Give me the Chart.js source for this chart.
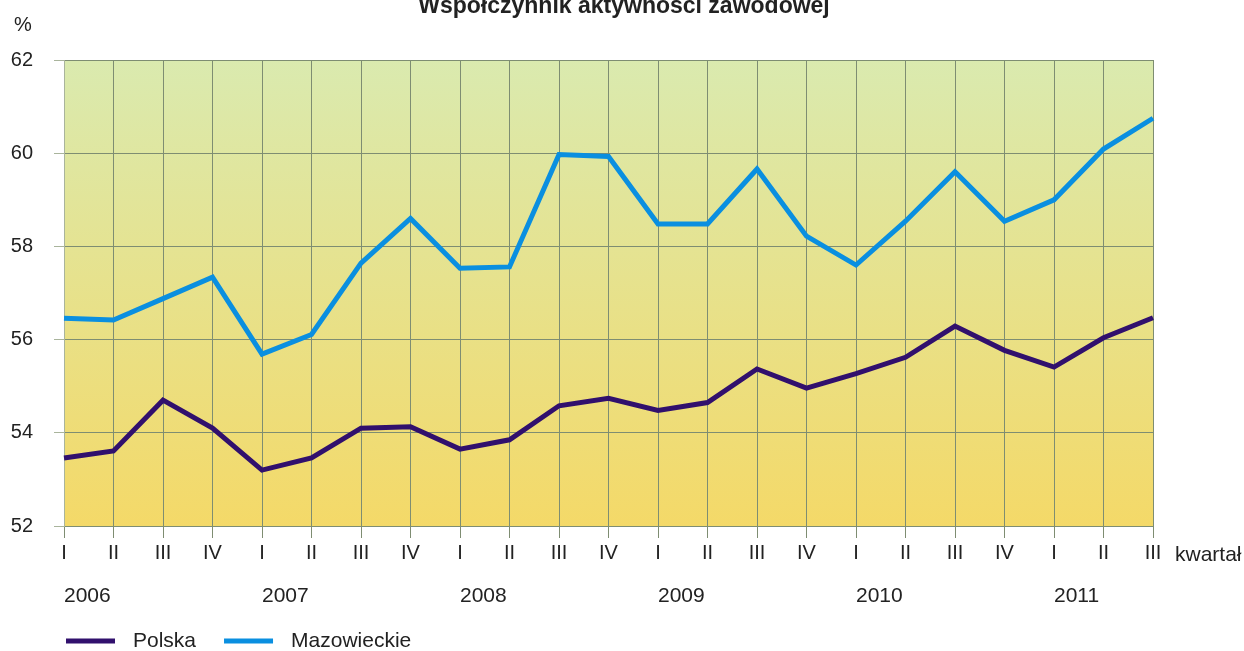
<!DOCTYPE html>
<html>
<head>
<meta charset="utf-8">
<script src="https://cdn.jsdelivr.net/npm/chart.js@4.4.1/dist/chart.umd.min.js"></script>
<style>
  html, body { margin: 0; padding: 0; background: #fff; }
  #wrap { width: 1244px; height: 651px; }
</style>
</head>
<body>
<div id="wrap"><canvas id="myChart" width="1244" height="651"></canvas></div>
<script>
const quarters = ['I', 'II', 'III', 'IV', 'I', 'II', 'III', 'IV', 'I', 'II', 'III', 'IV',
    'I', 'II', 'III', 'IV', 'I', 'II', 'III', 'IV', 'I', 'II', 'III'];
const years = ['2006', '2007', '2008', '2009', '2010', '2011'];
const yTicks = [52, 54, 56, 58, 60, 62];

const polska = [53.46, 53.61, 54.70, 54.10, 53.20, 53.46, 54.10, 54.13, 53.65, 53.85, 54.58, 54.74,
    54.48, 54.65, 55.37, 54.96, 55.27, 55.62, 56.29, 55.77, 55.41, 56.04, 56.47];
const mazowieckie = [56.46, 56.42, 56.88, 57.34, 55.69, 56.11, 57.64, 58.60, 57.53, 57.56, 59.97, 59.93,
    58.48, 58.48, 59.66, 58.22, 57.60, 58.54, 59.60, 58.54, 59.00, 60.09, 60.75];

const gridColor = '#7e8d72';
const textColor = '#222';
const font = 'Liberation Sans, Arial, sans-serif';

// gradient behind the plot
const plotBg = {
    id: 'plotBg',
    beforeDraw(chart) {
        const {ctx, chartArea: a} = chart;
        const g = ctx.createLinearGradient(0, a.top, 0, a.bottom);
        g.addColorStop(0, '#daeaaf');
        g.addColorStop(1, '#f4d968');
        ctx.save();
        ctx.fillStyle = g;
        ctx.fillRect(a.left, a.top, a.right - a.left, a.bottom - a.top);
        ctx.restore();
    }
};

// title, unit, "kwartał" and the legend
const extras = {
    id: 'extras',
    afterDraw(chart) {
        const {ctx, chartArea: a} = chart;
        ctx.save();
        ctx.fillStyle = textColor;
        ctx.textBaseline = 'alphabetic';
        ctx.textAlign = 'center';
        ctx.font = 'bold 23px ' + font;
        ctx.fillText('Współczynnik aktywności zawodowej', 624, 13);

        ctx.font = '20px ' + font;
        ctx.fillText('%', 23, 31);

        ctx.textAlign = 'left';
        ctx.textBaseline = 'middle';
        ctx.font = '21px ' + font;
        ctx.fillText('kwartał', a.right + 22, 555);

        // legend
        let x = 66;
        const y = 641;
        chart.data.datasets.forEach((ds) => {
            ctx.strokeStyle = ds.borderColor;
            ctx.lineWidth = 5;
            ctx.beginPath();
            ctx.moveTo(x, y);
            ctx.lineTo(x + 49, y);
            ctx.stroke();
            x += 49 + 18;
            ctx.fillStyle = textColor;
            ctx.fillText(ds.label, x, y);
            x += ctx.measureText(ds.label).width + 28;
        });
        ctx.restore();
    }
};

const data = {
    labels: quarters,
    datasets: [{
        label: 'Polska',
        data: polska,
        borderColor: '#31106d',
        backgroundColor: '#31106d',
        borderWidth: 5,
        pointRadius: 0,
        tension: 0
    }, {
        label: 'Mazowieckie',
        data: mazowieckie,
        borderColor: '#0a8fe0',
        backgroundColor: '#0a8fe0',
        borderWidth: 5,
        pointRadius: 0,
        tension: 0
    }]
};

const config = {
    type: 'line',
    data,
    options: {
        responsive: false,
        animation: false,
        layout: { padding: { top: 60, right: 91, left: 0, bottom: 0 } },
        plugins: {
            legend: { display: false },
            tooltip: { enabled: false }
        },
        scales: {
            x: {
                offset: false,
                weight: 0,
                grid: { color: gridColor, lineWidth: 1, tickLength: 12, tickColor: gridColor },
                border: { color: gridColor },
                ticks: {
                    autoSkip: false, maxRotation: 0, padding: 3,
                    color: textColor, font: { family: font, size: 20 }
                },
                afterFit(scale) { scale.height = 45; }
            },
            years: {
                type: 'category',
                position: 'bottom',
                labels: quarters,
                offset: false,
                weight: 1,
                grid: { display: false, drawTicks: false },
                border: { display: false },
                ticks: {
                    autoSkip: false, maxRotation: 0, padding: 13, align: 'start',
                    color: textColor, font: { family: font, size: 21 },
                    callback: (v, i) => (i % 4 === 0 ? years[i / 4] : '')
                },
                afterFit(scale) { scale.height = 80; }
            },
            y: {
                min: yTicks[0],
                max: yTicks[yTicks.length - 1],
                grid: { color: gridColor, lineWidth: 1, tickLength: 10, tickColor: '#a9b49c' },
                border: { color: '#a9b49c' },
                afterBuildTicks(scale) { scale.ticks = yTicks.map(v => ({ value: v })); },
                ticks: {
                    padding: 21,
                    color: textColor, font: { family: font, size: 20 }
                },
                afterFit(scale) { scale.width = 64; }
            }
        }
    },
    plugins: [plotBg, extras]
};

new Chart(document.getElementById('myChart'), config);
</script>
</body>
</html>
